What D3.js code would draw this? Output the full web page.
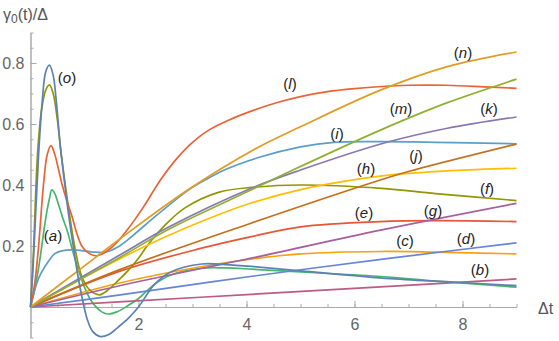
<!DOCTYPE html>
<html>
<head>
<meta charset="utf-8">
<script src="https://cdn.jsdelivr.net/npm/d3@7"></script>
<style>
  html, body { margin: 0; padding: 0; background: #fff; }
  svg { display: block; font-family: "Liberation Sans", Arial, sans-serif; }
</style>
</head>
<body>
<div id="chart"></div>
<script>
// curves, [t, value] pairs
const curveA = [[0,0],[0.08,0.06],[0.16,0.14],[0.24,0.24],[0.3,0.31],[0.35,0.355],[0.395,0.384],[0.45,0.372],[0.52,0.335],[0.6,0.29],[0.68,0.25],[0.75,0.205],[0.82,0.16],[0.89,0.12],[1.0,0.065],[1.1,0.027],[1.2,0.003],[1.32,-0.016],[1.44,-0.023],[1.6,-0.016],[1.8,0.004],[2.0,0.028],[2.3,0.075],[2.6,0.105],[3.17,0.127],[3.6,0.128],[4.1,0.124],[5.1,0.114],[6.5,0.1],[7.5,0.085],[9,0.065]];
const curveB = [[0,0],[3.15,0.032],[6.48,0.066],[9,0.092]];
const curveC = [[0,0],[1.63,0.078],[3.15,0.132],[4.22,0.16],[5,0.174],[6.48,0.182],[7.5,0.18],[9,0.174]];
const curveD = [[0,0],[1.63,0.039],[4.07,0.1],[6.67,0.16],[9,0.21]];
const curveE = [[0,0],[1.63,0.116],[3.15,0.192],[4.07,0.23],[5,0.263],[6.48,0.28],[7.5,0.283],[9,0.28]];
const curveF = [[0,0],[0.05,0.16],[0.13,0.5],[0.2,0.64],[0.28,0.71],[0.35,0.728],[0.42,0.7],[0.5,0.61],[0.57,0.5],[0.7,0.33],[0.83,0.187],[0.95,0.1],[1.1,0.055],[1.28,0.04],[1.45,0.058],[1.63,0.088],[1.81,0.12],[2.0,0.16],[2.2,0.21],[2.5,0.27],[2.86,0.325],[3.48,0.376],[4.1,0.392],[5,0.4],[6.5,0.389],[7.5,0.372],[9,0.349]];
const curveG = [[0,0],[1.63,0.069],[4.22,0.165],[6.48,0.252],[9,0.34]];
const curveH = [[0,0],[1,0.098],[1.63,0.156],[2.5,0.23],[3.3,0.29],[4.07,0.34],[5,0.385],[5.8,0.412],[6.67,0.433],[7.8,0.447],[9,0.455]];
const curveI = [[0,0],[0.15,0.094],[0.33,0.149],[0.45,0.175],[0.58,0.184],[0.77,0.187],[1.13,0.181],[1.38,0.179],[1.6,0.195],[1.8,0.22],[2.0,0.25],[2.4,0.31],[2.93,0.384],[3.23,0.416],[3.6,0.45],[4.22,0.49],[5,0.525],[5.62,0.54],[6.5,0.542],[7.5,0.54],[9,0.535]];
const curveJ = [[0,0],[1.63,0.121],[4.07,0.274],[6.67,0.427],[7.1,0.449],[9,0.534]];
const curveK = [[0,0],[1.63,0.168],[2.56,0.262],[4.1,0.39],[5,0.449],[6.6,0.54],[7.72,0.586],[9,0.623]];
const curveL = [[0,0],[0.08,0.08],[0.15,0.2],[0.24,0.4],[0.31,0.5],[0.38,0.529],[0.45,0.5],[0.52,0.45],[0.58,0.405],[0.67,0.35],[0.77,0.296],[0.86,0.24],[0.95,0.2],[1.05,0.18],[1.23,0.168],[1.5,0.195],[1.8,0.255],[2.1,0.33],[2.4,0.415],[2.7,0.485],[3.0,0.54],[3.3,0.58],[3.7,0.615],[4.1,0.643],[4.6,0.672],[5.0,0.69],[5.5,0.706],[6.0,0.716],[6.5,0.723],[7.0,0.727],[7.7,0.727],[8.4,0.722],[9,0.717]];
const curveM = [[0,0],[1.63,0.16],[2.56,0.255],[4.1,0.385],[4.81,0.445],[6.48,0.58],[7.72,0.67],[9,0.747]];
const curveN = [[0,0],[1,0.135],[1.63,0.22],[2.93,0.386],[4.22,0.524],[5,0.591],[6.48,0.711],[7.72,0.788],[9,0.836]];
const curveO = [[0,0],[0.05,0.14],[0.15,0.5],[0.22,0.68],[0.28,0.77],[0.35,0.793],[0.42,0.76],[0.48,0.67],[0.55,0.53],[0.63,0.41],[0.7,0.31],[0.8,0.19],[0.88,0.1],[0.95,0.035],[1.05,-0.04],[1.15,-0.08],[1.29,-0.097],[1.45,-0.09],[1.63,-0.065],[1.81,-0.037],[2.0,0],[2.3,0.075],[2.6,0.115],[3.17,0.141],[3.6,0.139],[4.1,0.133],[5.1,0.117],[6.67,0.093],[8,0.08],[9,0.07]];

const names = ['a','b','c','d','e','f','g','h','i','j','k','l','m','n','o'];
const curves = [curveA, curveB, curveC, curveD, curveE, curveF, curveG, curveH, curveI, curveJ, curveK, curveL, curveM, curveN, curveO];
const colors = ['#47B66D','#BC5B80','#F89F13','#6685D9','#E95536','#929600','#A5609D','#FFBF00','#5D9EC7','#C56E1A','#8778B3','#EB6235','#8FB032','#E19C24','#5E81B5'];
// where each letter label sits, in data units
const labelAt = [[0.417,0.236],[8.324,0.125],[6.935,0.22],[8.065,0.226],[6.176,0.311],[8.454,0.39],[7.454,0.318],[6.213,0.456],[5.676,0.57],[7.139,0.498],[8.491,0.652],[4.806,0.734],[6.861,0.652],[8.009,0.836],[0.676,0.754]];

const xTicks = [2, 4, 6, 8];
const yTicks = [0.2, 0.4, 0.6, 0.8];

const W = 559, H = 341;
const svg = d3.select('#chart').append('svg').attr('width', W).attr('height', H);

const x = d3.scaleLinear().domain([0, 9]).range([30.5, 516.5]);
const y = d3.scaleLinear().domain([-0.1, 0.9]).range([337.5, 32.5]);

const axisColor = '#aaa';
const tickText = '#666';

// x axis (ticks pointing up)
const gx = svg.append('g').attr('transform', `translate(0,${y(0)})`);
gx.call(d3.axisBottom(x).tickValues(d3.range(0.5, 9.01, 0.5)).tickSize(-3).tickSizeOuter(0).tickFormat(''));
gx.append('g').call(d3.axisBottom(x).tickValues(xTicks).tickSize(-6).tickSizeOuter(0).tickFormat(d3.format('d')));
gx.selectAll('path.domain').attr('stroke', axisColor);
gx.selectAll('line').attr('stroke', axisColor);
gx.selectAll('text').attr('fill', tickText).style('font-size', '16px').attr('y', 12).attr('dy', '0.71em');

// y axis (ticks pointing right)
const gy = svg.append('g').attr('transform', `translate(${x(0)},0)`);
gy.call(d3.axisLeft(y).tickValues(d3.range(-0.1, 0.901, 0.05).map(v => +v.toFixed(2))).tickSize(-3).tickSizeOuter(0).tickFormat(''));
gy.append('g').call(d3.axisLeft(y).tickValues(yTicks).tickSize(-6).tickSizeOuter(0).tickFormat(d3.format('.1f')));
gy.selectAll('path.domain').attr('stroke', axisColor);
gy.selectAll('line').attr('stroke', axisColor);
gy.selectAll('text').attr('fill', tickText).style('font-size', '16px').attr('x', -6);

// curves
const line = d3.line().x(d => x(d[0])).y(d => y(d[1])).curve(d3.curveCatmullRom.alpha(0.5));
svg.append('g').selectAll('path')
  .data(curves)
  .enter()
  .append('path')
  .attr('d', line)
  .attr('fill', 'none')
  .attr('stroke', (d, i) => colors[i])
  .attr('stroke-width', 1.7);

// letter labels
const lab = svg.append('g').selectAll('text')
  .data(names)
  .enter()
  .append('text')
  .attr('x', (d, i) => x(labelAt[i][0]))
  .attr('y', (d, i) => y(labelAt[i][1]))
  .attr('text-anchor', 'middle')
  .attr('dominant-baseline', 'central')
  .style('font-size', '15px')
  .attr('fill', '#222');
lab.append('tspan').text('(');
lab.append('tspan').style('font-style', 'italic').text(d => d);
lab.append('tspan').text(')');

// axis titles
const yt = svg.append('text').attr('x', 3).attr('y', 20).attr('fill', '#555').style('font-size', '16px');
yt.append('tspan').text('γ');
yt.append('tspan').attr('dy', 3).style('font-size', '12px').text('0');
yt.append('tspan').attr('dy', -3).text('(t)/Δ');

svg.append('text').attr('x', 538).attr('y', 314).attr('fill', '#555').style('font-size', '16px').text('Δt');
</script>
</body>
</html>
